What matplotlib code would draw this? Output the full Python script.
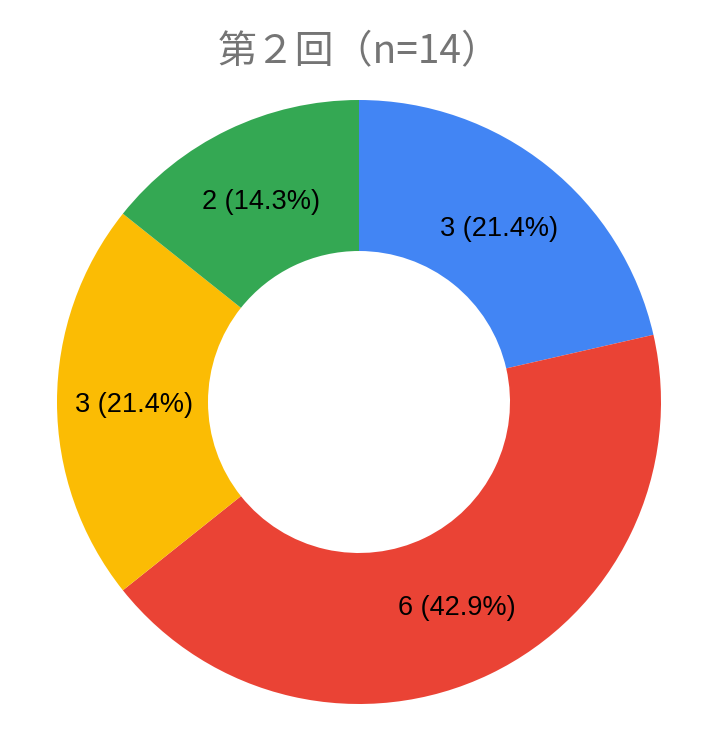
import matplotlib
matplotlib.use("Agg")
import matplotlib.pyplot as plt
from matplotlib.transforms import offset_copy

# データ
labels = ["A", "B", "C", "D"]
values = [3, 6, 3, 2]
colors = ["#4285F4", "#EA4335", "#FBBC04", "#34A853"]
title = "第２回（n=14）"

total = sum(values)

fig = plt.figure(figsize=(7.18, 7.42), dpi=100)
ax = fig.add_axes([(359 - 302) / 718, (742 - 704) / 742, 604 / 718, 604 / 742])

wedges, texts = ax.pie(
    values,
    colors=colors,
    startangle=90,
    counterclock=False,
    radius=1.0,
    labels=[f"{v} ({v / total * 100:.1f}%)" for v in values],
    labeldistance=0.745,
    wedgeprops=dict(width=0.5, linewidth=0),
    textprops=dict(fontsize=19.5, family=["Liberation Sans", "DejaVu Sans"], color="black"),
)
# ラベルを少し下へ
shifted = offset_copy(ax.transData, fig=fig, x=0, y=-3, units="dots")
for t in texts:
    t.set_ha("center")
    t.set_va("center")
    t.set_transform(shifted)

ax.set_xlim(-1, 1)
ax.set_ylim(-1, 1)
ax.set_aspect("equal")
ax.axis("off")

fig.text(0.5, 1 - 52 / 742, title, fontsize=28, color="#757575",
         family=["Noto Sans CJK JP", "DejaVu Sans"], ha="center", va="center")

fig.savefig("out.png", dpi=100, facecolor="white")
